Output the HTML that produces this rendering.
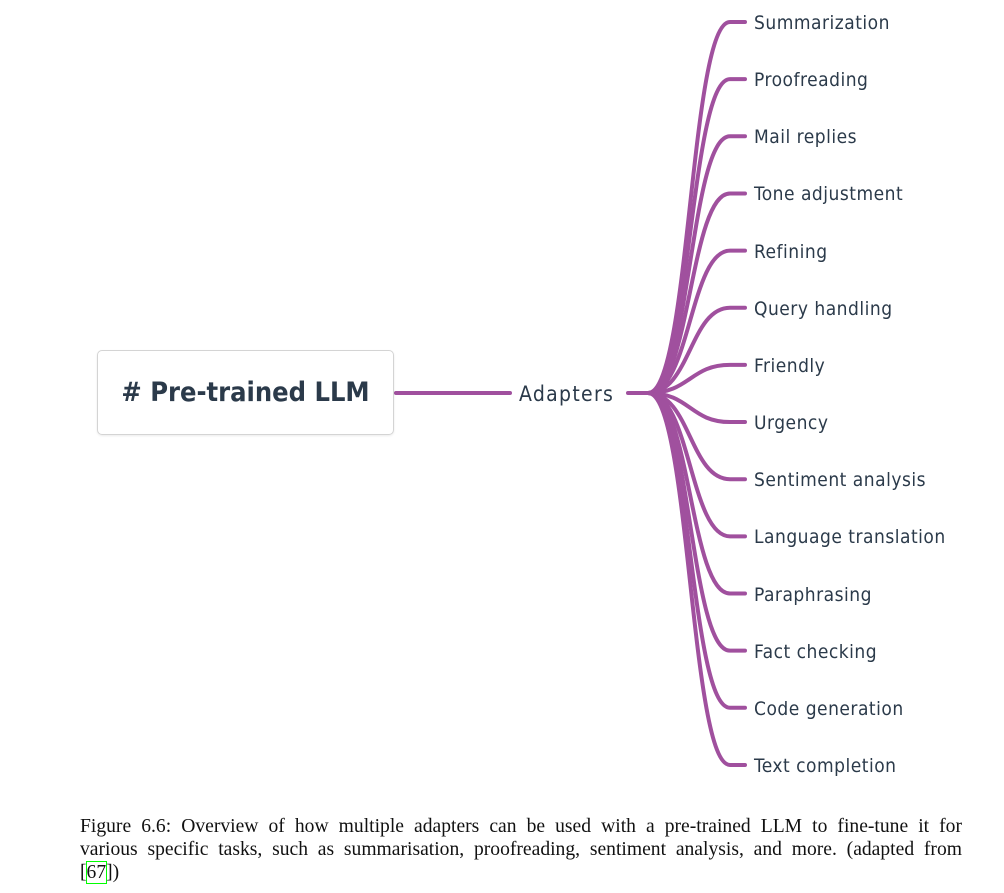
<!DOCTYPE html>
<html><head><meta charset="utf-8"><style>
body{margin:0;width:1004px;height:893px;background:#fff;position:relative;overflow:hidden}
.box{position:absolute;left:97px;top:350px;width:297px;height:85px;border:1px solid #d4d4d4;border-radius:5px;box-shadow:0 1px 2px rgba(0,0,0,.08);box-sizing:border-box;font:600 27px "DejaVu Sans Condensed","Liberation Sans",sans-serif;color:#2b3a4a;display:flex;align-items:center;justify-content:center}
.lbl{position:absolute;left:754px;font:500 19px "DejaVu Sans Condensed","Liberation Sans",sans-serif;letter-spacing:0.5px;color:#2b3a4a;line-height:22px;white-space:nowrap}
.cap{position:absolute;left:80px;top:815px;width:882px;font:19.6px "Liberation Serif",serif;line-height:23px;color:#111}
.cap div{text-align:justify;text-align-last:justify;white-space:nowrap}
.cap div:last-child{text-align-last:left}
</style></head><body>
<svg width="1004" height="893" style="position:absolute;left:0;top:0">
<g fill="none" stroke="#a0509e" stroke-width="4" stroke-linecap="round" id="g">
<line x1="396" y1="393" x2="510" y2="393"/>
<line x1="628" y1="393" x2="648" y2="393"/>
</g>
</svg>
<div class="box"># Pre-trained LLM</div>
<div class="lbl" style="left:519px;top:383px;font-size:21px;letter-spacing:1.3px">Adapters</div>
<div id="labels"></div>
<div class="cap"><div>Figure 6.6: Overview of how multiple adapters can be used with a pre-trained LLM to fine-tune it for</div><div>various specific tasks, such as summarisation, proofreading, sentiment analysis, and more. (adapted from</div><div>[<span style="outline:1px solid #0f0">67</span>])</div></div>
<script>
var names=["Summarization","Proofreading","Mail replies","Tone adjustment","Refining","Query handling","Friendly","Urgency","Sentiment analysis","Language translation","Paraphrasing","Fact checking","Code generation","Text completion"];
var g=document.getElementById('g'),L=document.getElementById('labels'),ns="http://www.w3.org/2000/svg";
names.forEach(function(n,i){var y=22+i*57.15;
var p=document.createElementNS(ns,'path');
p.setAttribute('d','M648 393 C690 393 690 '+y+' 730 '+y+' L745 '+y);g.appendChild(p);
var d=document.createElement('div');d.className='lbl';d.style.top=(y-10)+'px';d.textContent=n;L.appendChild(d);});
</script>
</body></html>
